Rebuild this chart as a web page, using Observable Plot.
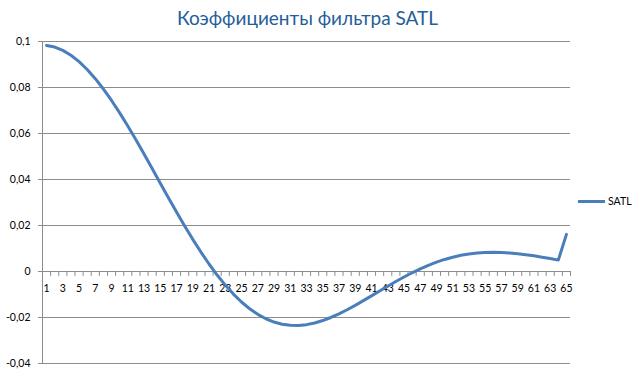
<!DOCTYPE html>
<html>
<head>
<meta charset="utf-8">
<script src="https://cdn.jsdelivr.net/npm/d3@7"></script>
<script src="https://cdn.jsdelivr.net/npm/@observablehq/plot@0.6"></script>
<style>
  body { margin: 0; background: #fff; }
  #wrap { position: relative; width: 639px; height: 375px; font-family: Lato, "Open Sans", sans-serif; }
  #title { height: 30px; line-height: 36px; text-align: center; font-size: 19px; color: #245E98; padding-right: 24px; box-sizing: border-box; }
  #legend { position: absolute; left: 578px; top: 195px; font-size: 10.5px; display: flex; align-items: center; color: #000; }
  #legend span.sw { display: inline-block; width: 27px; height: 3px; background: #4A7EBB; margin-right: 3px; }
  svg { display: block; }
</style>
</head>
<body>
<div id="wrap">
  <div id="title">Коэффициенты фильтра SATL</div>
  <div id="chart"></div>
  <div id="legend"><span class="sw"></span><span>SATL</span></div>
</div>
<script>
const seriesName = "SATL";
const satl = [
  0.0982862174, 0.0975682269, 0.0961401078, 0.0940230544, 0.0912437090,
  0.0878391006, 0.0838544303, 0.0793406350, 0.0743569346, 0.0689666682,
  0.0632381578, 0.0572428925, 0.0510534242, 0.0447468229, 0.0383959950,
  0.0320735368, 0.0258537721, 0.0198005183, 0.0139807863, 0.0084512448,
  0.0032639979, -0.0015350359, -0.0059060082, -0.0098190256, -0.0132507215,
  -0.0161875265, -0.0186164872, -0.0205446727, -0.0219739146, -0.0229204861,
  -0.0234080863, -0.0234566315, -0.0231017777, -0.0223796900, -0.0213300463,
  -0.0199924534, -0.0184126992, -0.0166377699, -0.0147139428, -0.0126796776,
  -0.0105938331, -0.0084736770, -0.0063841850, -0.0043466731, -0.0023956944,
  -0.0005535180, 0.0011421469, 0.0026845693, 0.0040471369, 0.0052380201,
  0.0062194591, 0.0070340085, 0.0076266453, 0.0080376628, 0.0083037666,
  0.0083694798, 0.0082901022, 0.0080741359, 0.0077543820, 0.0073260526,
  0.0068163569, 0.0062325477, 0.0056078229, 0.0049516078, 0.0161380976
];
const categories = satl.map((_, i) => i + 1);
const xTickLabels = categories.filter(c => c % 2 === 1);
const yTicks = [-0.04, -0.02, 0, 0.02, 0.04, 0.06, 0.08, 0.1];

const data = categories.map((c, i) => ({ n: c, v: satl[i] }));
const bandEdges = [...categories.map(c => c - 0.5), categories.length + 0.5];

const grid = "#8C8C8C";
const fmt = d => String(d).replace(".", ",");

const chart = Plot.plot({
  width: 639,
  height: 345,
  marginLeft: 42,
  marginRight: 69,
  marginTop: 11,
  marginBottom: 12,
  style: { fontFamily: "Lato, 'Open Sans', sans-serif", fontSize: "10.5px", color: "#000", background: "#fff" },
  x: { domain: [0.5, categories.length + 0.5], axis: null },
  y: { domain: [-0.04, 0.1], axis: null },
  marks: [
    Plot.ruleY(yTicks, { stroke: grid, strokeWidth: 1, x1: 0.5, x2: categories.length + 0.5 }),
    Plot.axisY({ ticks: yTicks, tickFormat: fmt, tickSize: 4, tickPadding: 8, stroke: grid, strokeOpacity: 1, textAnchor: "end", fill: "#000", label: null }),
    Plot.ruleX([0.5], { stroke: grid, strokeWidth: 1 }),
    Plot.ruleX(bandEdges, { x: d => d, y1: 0, y2: -0.0021, stroke: grid, strokeWidth: 1 }),
    Plot.text(xTickLabels, { x: d => d, y: () => 0, dy: 17, text: d => String(d), fill: "#000", fontSize: 10.5 }),
    Plot.line(data, { x: "n", y: "v", stroke: "#4A7EBB", strokeWidth: 3, strokeLinejoin: "round", strokeLinecap: "round" })
  ]
});
document.getElementById("chart").appendChild(chart);
</script>
</body>
</html>
